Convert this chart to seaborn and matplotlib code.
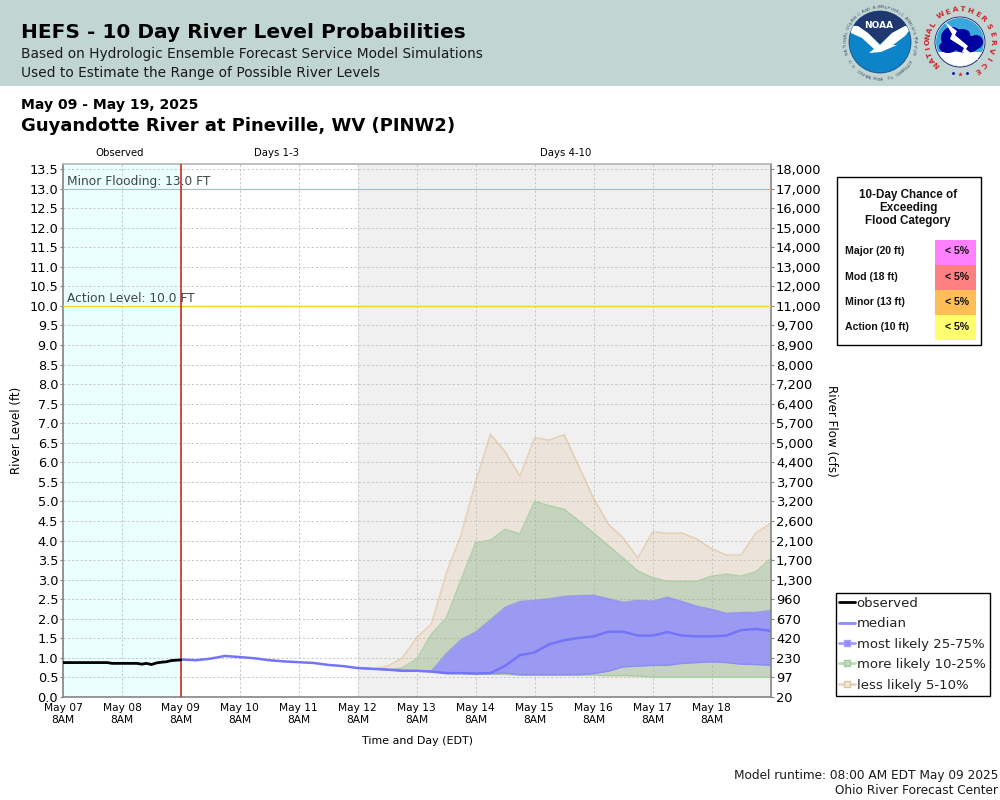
import numpy as np
import pandas as pd
import matplotlib
matplotlib.use("Agg")
import matplotlib.pyplot as plt
import matplotlib.dates as mdates
from matplotlib.lines import Line2D
from matplotlib.patches import Circle, Polygon, Rectangle, Ellipse
import seaborn as sns

# ---------- data ----------
obs_level = [.88,.88,.88,.88,.88,.88,.88,.88,.88,.88,.86,.86,.86,.86,.86,.86,
             .84,.86,.83,.87,.89,.90,.93,.94,.95]
median_early = [.96,.94,.98,1.05,1.02,.99,.94,.91,.89,.87,.82,.79]
median = [.74,.72,.70,.67,.67,.65,.61,.61,.60,.61,.80,1.07,1.14,1.35,1.45,1.51,
          1.55,1.67,1.67,1.57,1.57,1.66,1.57,1.55,1.55,1.57,1.71,1.74,1.69]
p75 = [.75,.72,.70,.68,.67,.66,1.10,1.46,1.66,1.97,2.29,2.44,2.47,2.51,2.57,2.59,
       2.60,2.51,2.42,2.47,2.45,2.55,2.44,2.32,2.24,2.14,2.16,2.16,2.21]
p25 = [.74,.72,.70,.67,.67,.65,.61,.61,.60,.60,.61,.57,.57,.57,.57,.57,
       .60,.66,.77,.79,.81,.81,.86,.88,.90,.88,.84,.83,.81]
p90 = [.75,.72,.70,.74,.97,1.61,2.02,2.99,3.95,4.01,4.29,4.17,5.00,4.89,4.80,4.50,
       4.19,3.87,3.55,3.22,3.05,2.96,2.96,2.96,3.09,3.14,3.09,3.20,3.53]
p10 = [.74,.72,.70,.67,.67,.65,.60,.60,.59,.58,.58,.56,.56,.56,.56,.56,
       .56,.55,.55,.54,.51,.51,.51,.51,.51,.51,.51,.51,.51]
p95 = [.75,.72,.79,.99,1.52,1.87,3.16,4.14,5.51,6.72,6.27,5.65,6.63,6.57,6.71,5.89,
       5.08,4.42,4.07,3.55,4.22,4.19,4.19,4.04,3.79,3.63,3.63,4.19,4.44]
p5 = [.74,.72,.70,.67,.67,.65,.59,.59,.58,.57,.56,.55,.54,.54,.54,.54,
      .53,.52,.52,.51,.51,.51,.51,.51,.51,.51,.51,.51,.51]

level_ticks = [i / 2 for i in range(28)]
flow_labels = ["20","97","230","420","670","960","1,300","1,700","2,100","2,600","3,200",
               "3,700","4,400","5,000","5,700","6,400","7,200","8,000","8,900","9,700",
               "11,000","12,000","13,000","14,000","15,000","16,000","17,000","18,000"]
flood_rows = ["Major (20 ft)", "Mod (18 ft)", "Minor (13 ft)", "Action (10 ft)"]
flood_chance = ["< 5%", "< 5%", "< 5%", "< 5%"]
flood_colors = ["#ff80ff", "#ff8080", "#ffbe55", "#ffff6e"]

t_start = pd.Timestamp("2025-05-07 08:00")
t_run = pd.Timestamp("2025-05-09 08:00")
t_mid = pd.Timestamp("2025-05-12 08:00")
t_end = pd.Timestamp("2025-05-19 08:00")
t_obs = pd.date_range(t_start, t_run, freq="2h")
t_band = pd.date_range(t_mid, t_end, freq="6h")
t_med = pd.date_range(t_run, t_end, freq="6h")
df_obs = pd.DataFrame({"t": t_obs, "level": obs_level})
df_med = pd.DataFrame({"t": t_med, "level": median_early + median})

# ---------- style ----------
sns.set_theme(style="white", rc={"font.family": ["DejaVu Sans"]})
GRID = "#c6c6c6"
SPINE = "#858585"
C_BLUE, C_GREEN, C_TAN = "#908cff", "#6fb17f", "#deb887"

fig = plt.figure(figsize=(10, 8), dpi=100, facecolor="white")
ax = fig.add_axes([63 / 1000, (800 - 697) / 800, 707.5 / 1000, (697 - 164.3) / 800])
ax.set_xlim(t_start, t_end)
ax.set_ylim(0, 13.62)
ax.set_facecolor("white")
ax.axvspan(t_start, t_run, color="#eaffff", lw=0, zorder=0.1)
ax.axvspan(t_mid, t_end, color="#f0f0f0", lw=0, zorder=0.1)
ax.set_axisbelow(True)
ax.grid(True, color=GRID, ls=(0, (2.2, 2.2)), lw=0.7)

ax.fill_between(t_band, p5, p95, color=C_TAN, alpha=.2, lw=0, zorder=2)
ax.fill_between(t_band, p10, p90, color=C_GREEN, alpha=.3, lw=0, zorder=2.1)
ax.fill_between(t_band, p25, p75, color=C_BLUE, alpha=.8, lw=0, zorder=2.2)
for vals, col, a, z in [(p95, C_TAN, .55, 2.05), (p90, "#a5cc9c", .8, 2.15),
                        (p75, "#8585fa", .7, 2.25), (p25, "#8585fa", .7, 2.25),
                        (p10, "#a5cc9c", .8, 2.15)]:
    sns.lineplot(x=t_band, y=vals, ax=ax, color=col, alpha=a, lw=1.1, zorder=z, legend=False)

ax.axhline(13, color="#eeaa70", lw=.8, zorder=3)
ax.axhline(10, color="#ffd21e", lw=1, zorder=3)
ax.axvline(t_run, color="#d32a1e", lw=1.2, zorder=3)
sns.lineplot(data=df_med, x="t", y="level", ax=ax, color="#7474fa", lw=1.8, zorder=4, legend=False)
sns.lineplot(data=df_obs, x="t", y="level", ax=ax, color="black", lw=2, zorder=5, legend=False)

ax.annotate("Minor Flooding: 13.0 FT", xy=(t_start, 13), xytext=(3, 2.5), textcoords="offset points",
            fontsize=8.85, color="#3f4548", zorder=6)
ax.annotate("Action Level: 10.0 FT", xy=(t_start, 10), xytext=(3, 2.5), textcoords="offset points",
            fontsize=8.85, color="#3f4548", zorder=6)

ax.set_xticks(pd.date_range(t_start, "2025-05-18 08:00", freq="1D"))
ax.xaxis.set_major_formatter(mdates.DateFormatter("%b %d\n%-I%p"))
ax.set_yticks(level_ticks)
ax.set_yticklabels([f"{v:.1f}" for v in level_ticks])
ax.tick_params(axis="x", labelsize=7.7, length=2.5, width=.8, color=SPINE, pad=2, labelcolor="black")
ax.tick_params(axis="y", labelsize=9.3, length=2.5, width=.8, color=SPINE, pad=1, labelcolor="black")
for lab in ax.get_xticklabels():
    lab.set_linespacing(1.2)
ax.set_xlabel("Time and Day (EDT)", fontsize=7.9, color="black")
ax.set_ylabel("River Level (ft)", fontsize=8.5, color="black")
ax.xaxis.set_label_coords((417 - 63) / 707.5, -(736 - 697) / 532.7, transform=ax.transAxes)
ax.yaxis.set_label_coords(-(63 - 23) / 707.5, (697 - 430.5) / 532.7, transform=ax.transAxes)
for s in ax.spines.values():
    s.set_visible(True)
    s.set_color(SPINE)
    s.set_linewidth(1.2)
ax.spines["top"].set_color("#b5b5b5")

ax2 = ax.twinx()
ax2.set_ylim(ax.get_ylim())
ax2.set_yticks(level_ticks)
ax2.set_yticklabels(flow_labels)
ax2.tick_params(axis="y", labelsize=9.4, length=2.5, width=.8, color=SPINE, pad=1.5, labelcolor="black")
ax2.grid(False)
ax2.set_ylabel("River Flow (cfs)", fontsize=8.6, rotation=-90, color="black")
ax2.yaxis.set_label_coords(1 + (838 - 770.5) / 707.5, (697 - 431) / 532.7, transform=ax.transAxes)
for s in ax2.spines.values():
    s.set_visible(False)

handles = [
    Line2D([], [], color="black", lw=2),
    Line2D([], [], color="#8c8cfa", lw=2),
    Line2D([], [], color="#a0a0fa", lw=2, marker="s", ms=5, mfc=C_BLUE, mec="#a0a0fa"),
    Line2D([], [], color="#bcdcb4", lw=2, marker="s", ms=5, mfc="#bcdcb4", mec="#a5cc9c"),
    Line2D([], [], color="#ead6c0", lw=2, marker="s", ms=5, mfc="#f0e6da", mec="#dfc6a8"),
]
leg = ax2.legend(handles, ["observed", "median", "most likely 25-75%", "more likely 10-25%", "less likely 5-10%"],
                 loc="lower left", bbox_to_anchor=(835.5 / 1000, (800 - 695.5) / 800),
                 bbox_transform=fig.transFigure, frameon=True, fancybox=False, framealpha=1,
                 edgecolor="black", fontsize=9.55, handlelength=1.15, handletextpad=.15,
                 labelspacing=.56, borderpad=.3, borderaxespad=0, labelcolor="#222222")
leg.get_frame().set_linewidth(1)

# ---------- page furniture in pixel coordinates ----------
pg = fig.add_axes([0, 0, 1, 1], zorder=10)
pg.set_xlim(0, 1000)
pg.set_ylim(800, 0)
pg.axis("off")
pg.patch.set_alpha(0)
pg.add_patch(Rectangle((0, 0), 1000, 86, color="#c1d6d3", lw=0))


def T(x, y, s, size, **kw):
    kw.setdefault("va", "center")
    kw.setdefault("color", "black")
    return pg.text(x, y, s, fontsize=size, **kw)


T(21, 33, "HEFS - 10 Day River Level Probabilities", 14.5, weight="bold")
T(21, 54, "Based on Hydrologic Ensemble Forecast Service Model Simulations", 9.9, color="#1a1a1a")
T(21, 73, "Used to Estimate the Range of Possible River Levels", 9.9, color="#1a1a1a")
T(21, 105, "May 09 - May 19, 2025", 10.1, weight="bold")
T(21, 126, "Guyandotte River at Pineville, WV (PINW2)", 13, weight="bold")
T(120, 153.5, "Observed", 7.3, ha="center")
T(276, 153.5, "Days 1-3", 7.3, ha="center")
T(566, 153.5, "Days 4-10", 7.3, ha="center")
T(998, 775, "Model runtime: 08:00 AM EDT May 09 2025", 8.7, ha="right", color="#1a1a1a")
T(998, 791, "Ohio River Forecast Center", 8.7, ha="right", color="#1a1a1a")

# flood category box
pg.add_patch(Rectangle((836.5, 176.5), 144, 168.5, fc="white", ec="black", lw=1))
for y, line in zip([195, 208, 221], ["10-Day Chance of", "Exceeding", "Flood Category"]):
    T(908, y, line, 8.4, ha="center", weight="bold", family="Liberation Sans", color="#111111")
for i, (lab, pct, col) in enumerate(zip(flood_rows, flood_chance, flood_colors)):
    y0 = 240 + 25.1 * i
    pg.add_patch(Rectangle((935, y0), 41, 25.1, color=col, lw=0))
    T(845, y0 + 11.5, lab, 7.6, weight="bold", family="Liberation Sans", color="#111111")
    T(957, y0 + 11.5, pct, 7.6, ha="center", weight="bold", family="Liberation Sans", color="#111111")


def ring(text, cx, cy, r, a0, a1, size, color, **kw):
    for ch, a in zip(text, np.linspace(a0, a1, len(text))):
        th = np.deg2rad(a)
        pg.text(cx + r * np.sin(th), cy - r * np.cos(th), ch, fontsize=size, color=color,
                rotation=-a, rotation_mode="anchor", ha="center", va="center", **kw)


# NOAA emblem
cx, cy = 880, 42
disc = Circle((cx, cy), 31, fc="#0d84c8", ec="#163a78", lw=.5)
pg.add_patch(disc)
navy = Polygon([(845, 5), (915, 5), (915, 28), (905, 26), (892, 33), (880, 44), (868, 33), (855, 25), (845, 26)],
               fc="#1f3870", ec="none")
pg.add_patch(navy)
navy.set_clip_path(disc)
bird = Polygon([(848, 26), (858, 26), (868, 33), (880, 45), (892, 33), (905, 26), (912, 27), (905, 36),
                (893, 45), (897, 45), (881, 52), (869, 53), (874, 49), (862, 38), (851, 33)],
               fc="white", ec="none")
pg.add_patch(bird)
bird.set_clip_path(disc)
T(879, 25, "NOAA", 6.5, ha="center", color="white", weight="bold")
ring("NATIONAL OCEANIC AND ATMOSPHERIC ADMINISTRATION", cx, cy, 34.5, -108, 108, 3, "#3f4f6a")
ring("U.S. DEPARTMENT OF COMMERCE", cx, cy, 34.5, 238, 122, 3, "#3f4f6a")

# NWS emblem
cx, cy = 960, 42
pg.add_patch(Circle((cx, cy), 25, fc="white", ec="#111166", lw=.6))
inner = Circle((cx, cy), 24, fc="#3aa7dc", ec="none")
pg.add_patch(inner)
low = Rectangle((930, 52), 60, 20, fc="white", ec="none")
pg.add_patch(low)
low.set_clip_path(inner)
for ex, ey, ew, eh in [(952, 38, 22, 22), (966, 44, 28, 18), (976, 42, 14, 14), (948, 47, 18, 12), (962, 34, 16, 10)]:
    e = Ellipse((ex, ey), ew, eh, fc="#0000a0", ec="none")
    pg.add_patch(e)
    e.set_clip_path(inner)
pg.add_patch(Polygon([(945, 22), (957, 31), (955, 35), (968, 46), (966, 49), (980, 61), (962, 52), (964, 48),
                      (950, 39), (952, 34)], fc="white", ec="none"))
ring("NATIONAL", cx, cy, 32.5, -133, -58, 5.4, "#d2232a", weight="bold")
ring("WEATHER", cx, cy, 32.5, -35, 45, 5.4, "#d2232a", weight="bold")
ring("SERVICE", cx, cy, 32.5, 62, 148, 5.4, "#d2232a", weight="bold")
for a, col, ms in [(-168, "#0000a0", 2), (-180, "#d2232a", 3.5), (168, "#0000a0", 2)]:
    th = np.deg2rad(a)
    pg.plot([cx + 32 * np.sin(th)], [cy - 32 * np.cos(th)], marker="*" if ms > 3 else "o",
            ms=ms, color=col, mew=0)

fig.savefig("out.png", dpi=100)
